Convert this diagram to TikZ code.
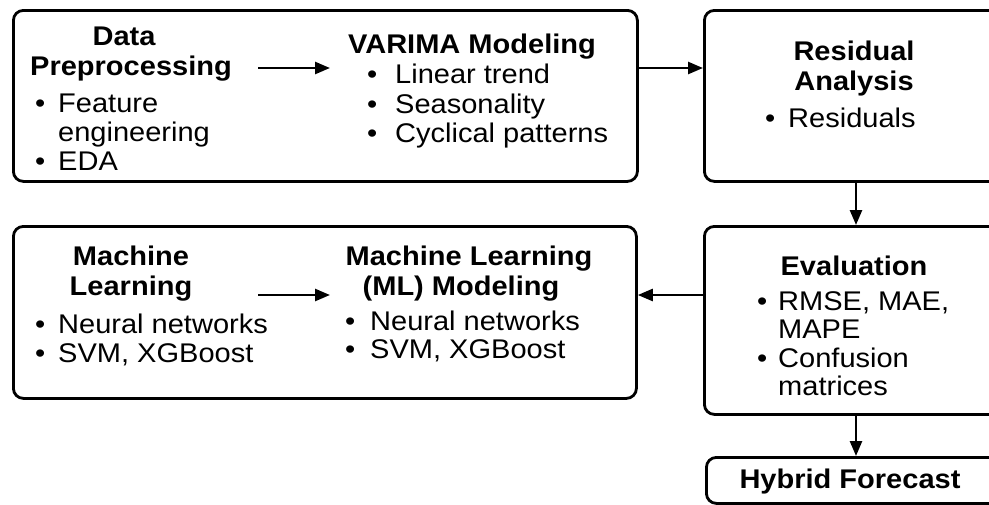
\documentclass[tikz,border=0pt]{standalone}
\usepackage{fontspec}
\setmainfont{Liberation Sans}[FakeStretch=1.075]
\usetikzlibrary{arrows.meta}
\begin{document}
\begin{tikzpicture}[x=1pt,y=-1pt,
  box/.style={draw, line width=2.8pt, rounded corners=10pt, rectangle, inner sep=0pt, anchor=north west},
  arr/.style={line width=2.5pt, -{Triangle[length=15pt,width=12pt]}},
  hd/.style={anchor=base, inner sep=0pt, font=\fontsize{27}{29}\selectfont\bfseries},
  tx/.style={anchor=base west, inner sep=0pt, font=\fontsize{27}{29}\selectfont},
]
\useasboundingbox (0,0) rectangle (989,504);
\clip (0,0) rectangle (989,504);

% boxes
\node[box, minimum width=624pt, minimum height=171pt] (prep) at (12,9) {};
\node[box, minimum width=300pt, minimum height=171pt] (res) at (703,9) {};
\node[box, minimum width=623pt, minimum height=172pt] (ml) at (12,225) {};
\node[box, minimum width=300pt, minimum height=188pt] (eval) at (703,225) {};
\node[box, minimum width=300pt, minimum height=46pt] (hyb) at (705,456) {};

% top-left box: preprocessing and VARIMA
\node[hd] (h1a) at (124,45) {Data};
\node[hd] (h1b) at (131,75) {Preprocessing};
\node[tx] (b1a) at (35,112) {•};
\node[tx] (t1a) at (58,112) {Feature};
\node[tx] (t1b) at (58,141) {engineering};
\node[tx] (b1c) at (35,170) {•};
\node[tx] (t1c) at (58,170) {EDA};

\node[hd] (h2) at (472,53) {VARIMA Modeling};
\node[tx] (b2a) at (367,83) {•};
\node[tx] (t2a) at (395,83) {Linear trend};
\node[tx] (b2b) at (367,113) {•};
\node[tx] (t2b) at (395,113) {Seasonality};
\node[tx] (b2c) at (367,142) {•};
\node[tx] (t2c) at (395,142) {Cyclical patterns};

% residual analysis
\node[hd] (h3a) at (854,60) {Residual};
\node[hd] (h3b) at (854,90) {Analysis};
\node[tx] (b3a) at (765,127) {•};
\node[tx] (t3a) at (788,127) {Residuals};

% machine learning box
\node[hd] (h4a) at (131,265) {Machine};
\node[hd] (h4b) at (131,295) {Learning};
\node[tx] (b4a) at (35,333) {•};
\node[tx] (t4a) at (58,333) {Neural networks};
\node[tx] (b4b) at (35,362) {•};
\node[tx] (t4b) at (58,362) {SVM, XGBoost};

\node[hd] (h5a) at (469,265) {Machine Learning};
\node[hd] (h5b) at (461,295) {(ML) Modeling};
\node[tx] (b5a) at (345,330) {•};
\node[tx] (t5a) at (370,330) {Neural networks};
\node[tx] (b5b) at (345,358) {•};
\node[tx] (t5b) at (370,358) {SVM, XGBoost};

% evaluation
\node[hd] (h6) at (854,275) {Evaluation};
\node[tx] (b6a) at (757,310) {•};
\node[tx] (t6a) at (778,310) {RMSE, MAE,};
\node[tx] (t6b) at (778,338) {MAPE};
\node[tx] (b6c) at (757,367) {•};
\node[tx] (t6c) at (778,367) {Confusion};
\node[tx] (t6d) at (778,395) {matrices};

% hybrid forecast
\node[hd] (h7) at (850,488) {Hybrid Forecast};

% connector anchors
\coordinate (row1) at (0,68);
\coordinate (row2) at (0,295);
\coordinate (col) at (856,0);
\coordinate (a1s) at (258,68);
\coordinate (a1e) at (330,68);
\coordinate (a2s) at (258,295);
\coordinate (a2e) at (330,295);

% connectors
\draw[arr] (a1s) -- (a1e);
\draw[arr] (a2s) -- (a2e);
\draw[arr] (prep.east |- row1) -- (res.west |- row1);
\draw[arr] (res.south -| col) -- (eval.north -| col);
\draw[arr] (eval.west |- row2) -- (ml.east |- row2);
\draw[arr] (eval.south -| col) -- (hyb.north -| col);
\end{tikzpicture}
\end{document}
